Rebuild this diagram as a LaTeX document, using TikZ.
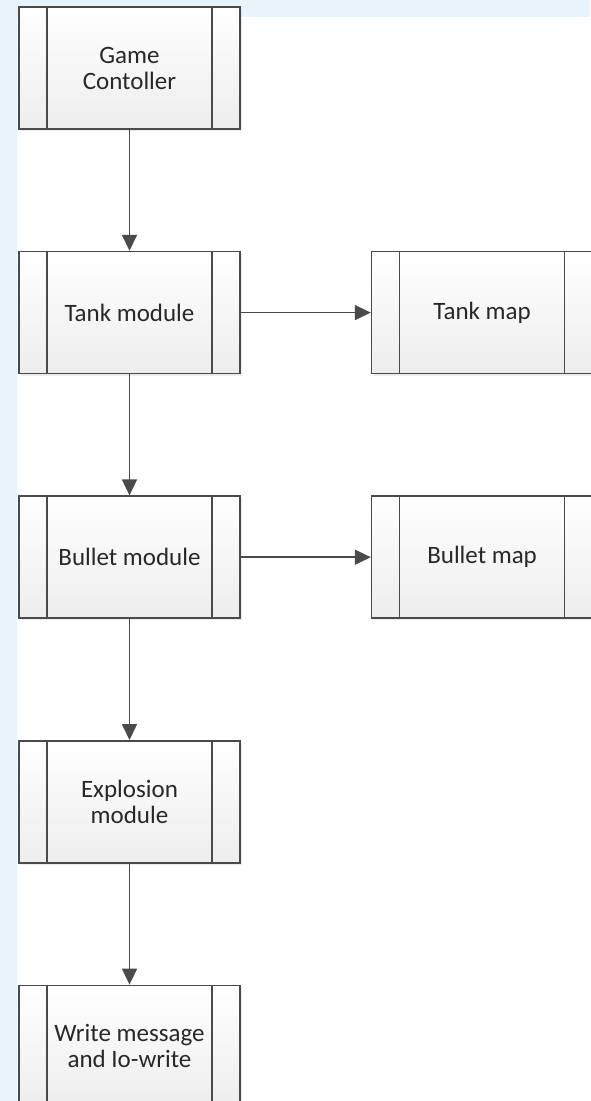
\documentclass[tikz,border=0pt]{standalone}
\usepackage{fontspec}
\setmainfont{Carlito}
\usetikzlibrary{positioning, arrows.meta, shadows}

\definecolor{edgegray}{HTML}{4A4A4A}
\definecolor{textgray}{HTML}{282828}
\definecolor{bgblue}{HTML}{E9F3FC}

\tikzset{
  procbox/.style={draw=edgegray, line width=1.6pt, rectangle,
    minimum width=221pt, minimum height=122pt, inner sep=0pt,
    top color=white, bottom color=black!7,
    drop shadow={shadow xshift=2pt, shadow yshift=-2pt, opacity=0.15},
    align=center, text=textgray,
    font=\fontsize{25}{26}\selectfont,
    path picture={
      \draw[edgegray, line width=1.6pt]
        ([xshift=28pt]path picture bounding box.north west) --
        ([xshift=28pt]path picture bounding box.south west);
      \draw[edgegray, line width=1.6pt]
        ([xshift=-28pt]path picture bounding box.north east) --
        ([xshift=-28pt]path picture bounding box.south east);
    }},
  flow/.style={-{Triangle[length=16pt, width=15pt]}, draw=edgegray,
    line width=1.7pt}
}

\begin{document}
\begin{tikzpicture}[node distance=121pt]

  % Background
  \fill[bgblue] (0pt,0pt) rectangle (590pt,-1101pt);
  \fill[white] (17pt,-17pt) rectangle (590pt,-1101pt);
  \useasboundingbox (0pt,0pt) rectangle (590pt,-1101pt);

  % Main column
  \node[procbox] (ctrl) at (129.5pt,-68pt) {Game\\Contoller};
  \node[procbox] (tank) [below=of ctrl] {Tank module};
  \node[procbox] (bullet) [below=of tank] {Bullet module};
  \node[procbox] (expl) [below=of bullet] {Explosion\\module};
  \node[procbox] (write) [below=of expl] {Write message\\and Io-write};

  % Maps
  \node[procbox] (tankmap) [right=130pt of tank] {Tank map};
  \node[procbox] (bulletmap) [right=130pt of bullet] {Bullet map};

  % Arrows
  \draw[flow] (ctrl) -- (tank);
  \draw[flow] (tank) -- (bullet);
  \draw[flow] (bullet) -- (expl);
  \draw[flow] (expl) -- (write);
  \draw[flow] (tank) -- (tankmap);
  \draw[flow] (bullet) -- (bulletmap);

\end{tikzpicture}
\end{document}
